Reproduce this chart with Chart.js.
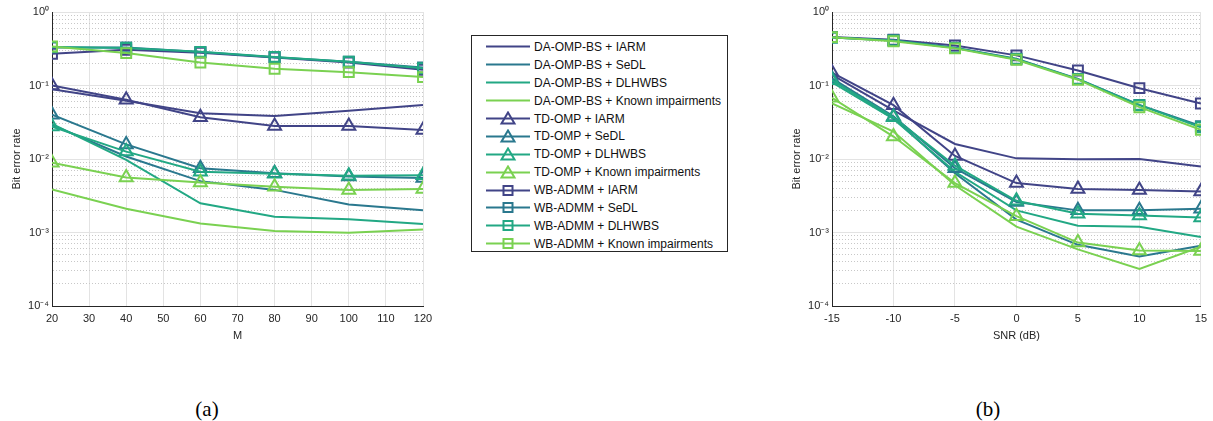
<!DOCTYPE html>
<html>
<head>
<meta charset="utf-8">
<script src="https://cdn.jsdelivr.net/npm/chart.js@4"></script>
<style>
  body { margin: 0; background: #fff; width: 1213px; height: 421px; position: relative; overflow: hidden; }
  .plot { position: absolute; top: 0; height: 350px; }
  #legend { position: absolute; left: 471px; top: 35px; width: 257px; height: 217px; border: 1px solid #262626;
            font-family: "Liberation Sans", Arial, sans-serif; font-size: 12px; color: #111; box-sizing: border-box; padding-top: 2px; }
  .row { height: 17.9px; display: flex; align-items: center; }
  .row svg { margin-left: 14px; margin-right: 4px; }
  .cap { position: absolute; top: 397px; width: 60px; text-align: center; font-family: "Liberation Serif", "Times New Roman", serif; font-size: 21px; color: #000; }
</style>
</head>
<body>
<div class="plot" style="left:0;width:440px"><canvas id="chartA"></canvas></div>
<div id="legend"></div>
<div class="plot" style="left:780px;width:433px"><canvas id="chartB"></canvas></div>
<div class="cap" style="left:177px">(a)</div>
<div class="cap" style="left:958px">(b)</div>
<script>
// x values
const mValues = [20, 40, 60, 80, 100, 120];
const snrValues = [-15, -10, -5, 0, 5, 10, 15];

// (a) BER vs M
const daIarmA = [0.089, 0.062, 0.042, 0.0385, 0.0455, 0.0543];
const daSedlA = [0.029, 0.0108, 0.005, 0.0038, 0.0024, 0.002];
const daDlhA = [0.03, 0.0097, 0.0025, 0.00164, 0.00152, 0.0013];
const daKnownA = [0.00386, 0.0021, 0.00133, 0.00105, 0.00099, 0.0011];
const tdIarmA = [0.1, 0.064, 0.037, 0.0281, 0.0281, 0.0248];
const tdSedlA = [0.04, 0.0158, 0.0075, 0.0064, 0.0058, 0.0055];
const tdDlhA = [0.0276, 0.0126, 0.0067, 0.0063, 0.0059, 0.006];
const tdKnownA = [0.0089, 0.0056, 0.0048, 0.0042, 0.0038, 0.0039];
const wbIarmA = [0.27, 0.306, 0.28, 0.241, 0.206, 0.164];
const wbSedlA = [0.33, 0.33, 0.285, 0.243, 0.21, 0.176];
const wbDlhA = [0.335, 0.325, 0.287, 0.245, 0.21, 0.172];
const wbKnownA = [0.34, 0.276, 0.206, 0.169, 0.152, 0.13];

// (b) BER vs SNR
const daIarmB = [0.14, 0.046, 0.016, 0.0102, 0.0099, 0.01, 0.0079];
const daSedlB = [0.12, 0.036, 0.0064, 0.0015, 0.00068, 0.00047, 0.00066];
const daDlhB = [0.11, 0.035, 0.0067, 0.002, 0.00124, 0.0012, 0.00087];
const daKnownB = [0.057, 0.0236, 0.0044, 0.0012, 0.00059, 0.00032, 0.00064];
const tdIarmB = [0.15, 0.054, 0.011, 0.0047, 0.0039, 0.0038, 0.0036];
const tdSedlB = [0.125, 0.038, 0.0075, 0.0026, 0.002, 0.002, 0.0021];
const tdDlhB = [0.118, 0.037, 0.0081, 0.0027, 0.0018, 0.0017, 0.0016];
const tdKnownB = [0.068, 0.0202, 0.0047, 0.00167, 0.00073, 0.00057, 0.00056];
const wbIarmB = [0.457, 0.42, 0.35, 0.257, 0.16, 0.092, 0.057];
const wbSedlB = [0.45, 0.41, 0.327, 0.231, 0.123, 0.0545, 0.028];
const wbDlhB = [0.45, 0.41, 0.325, 0.228, 0.122, 0.054, 0.027];
const wbKnownB = [0.455, 0.40, 0.32, 0.224, 0.12, 0.0507, 0.025];

const methods = ['DA-OMP-BS', 'TD-OMP', 'WB-ADMM'];
const markers = [false, 'triangle', 'rect'];
const variants = ['IARM', 'SeDL', 'DLHWBS', 'Known impairments'];
const colors = ['#414487', '#2a788e', '#22a884', '#7ad151'];

const seriesA = [daIarmA, daSedlA, daDlhA, daKnownA, tdIarmA, tdSedlA, tdDlhA, tdKnownA, wbIarmA, wbSedlA, wbDlhA, wbKnownA];
const seriesB = [daIarmB, daSedlB, daDlhB, daKnownB, tdIarmB, tdSedlB, tdDlhB, tdKnownB, wbIarmB, wbSedlB, wbDlhB, wbKnownB];

const supers = { '-': '⁻', '0': '⁰', '1': '¹', '2': '²', '3': '³', '4': '⁴' };
const tickFont = { family: '"Liberation Sans", Arial, sans-serif', size: 11 };
const textColor = '#262626';

function isDecade(v) {
    const l = Math.log10(v);
    return Math.abs(l - Math.round(l)) < 1e-6;
}

function makeDatasets(xs, series) {
    const sets = [];
    series.forEach((ys, i) => {
        const m = Math.floor(i / 4), v = i % 4;
        const style = markers[m];
        sets.push({
            label: methods[m] + ' + ' + variants[v],
            data: xs.map((x, k) => ({ x: x, y: ys[k] })),
            borderColor: colors[v],
            backgroundColor: colors[v],
            borderWidth: 2,
            pointStyle: style || 'circle',
            pointRadius: style ? (style === 'triangle' ? 7.5 : 7) : 0,
            pointBorderWidth: 2,
            pointBackgroundColor: 'rgba(0,0,0,0)',
            pointBorderColor: colors[v],
            tension: 0,
            order: 12 - i
        });
    });
    return sets;
}

function makeChart(id, xs, series, xTitle, xMin, xMax, step, padRight) {
    return new Chart(document.getElementById(id), {
        type: 'line',
        data: { datasets: makeDatasets(xs, series) },
        options: {
            responsive: false,
            animation: false,
            events: [],
            layout: { padding: { top: 12, right: padRight, left: 0, bottom: 0 } },
            plugins: { legend: { display: false }, tooltip: { enabled: false } },
            scales: {
                x: {
                    type: 'linear', min: xMin, max: xMax,
                    afterFit: (s) => { s.height = 44; },
                    ticks: { stepSize: step, color: textColor, font: tickFont, padding: 6, maxRotation: 0 },
                    grid: { color: '#e3e3e3', lineWidth: 1, drawTicks: false },
                    border: { display: true, color: '#262626', width: 1 },
                    title: { display: true, text: xTitle, color: textColor, font: tickFont, padding: { top: 0, bottom: 7 } }
                },
                y: {
                    type: 'logarithmic', min: 1e-4, max: 1,
                    afterFit: (s) => { s.width = 52; },
                    afterBuildTicks: (s) => {
                        const t = [];
                        for (let e = -4; e <= 0; e++) {
                            for (let k = 1; k <= 9; k++) {
                                const v = k * Math.pow(10, e);
                                if (v <= 1.0000001) t.push({ value: v });
                            }
                        }
                        s.ticks = t;
                    },
                    ticks: {
                        autoSkip: false, color: textColor, font: tickFont, padding: 3,
                        callback: (v) => {
                            if (!isDecade(v)) return '';
                            const e = String(Math.round(Math.log10(v)));
                            return '10' + e.split('').map(c => supers[c]).join('');
                        }
                    },
                    grid: {
                        drawTicks: false, lineWidth: 1,
                        color: (c) => (c.tick && isDecade(c.tick.value) ? '#e3e3e3' : '#c8c8c8')
                    },
                    border: {
                        display: true, color: '#262626', width: 1,
                        dash: (c) => (c.tick && !isDecade(c.tick.value) ? [1, 2] : [])
                    },
                    title: { display: true, text: 'Bit error rate', color: textColor, font: tickFont, padding: { top: 10, bottom: 0 } }
                }
            }
        }
    });
}

document.getElementById('chartA').width = 440;
document.getElementById('chartA').height = 350;
document.getElementById('chartB').width = 433;
document.getElementById('chartB').height = 350;

makeChart('chartA', mValues, seriesA, 'M', 20, 120, 10, 17);
makeChart('chartB', snrValues, seriesB, 'SNR (dB)', -15, 15, 5, 7);

// legend
const legend = document.getElementById('legend');
seriesA.forEach((_, i) => {
    const m = Math.floor(i / 4), v = i % 4;
    const c = colors[v];
    let mark = '';
    if (markers[m] === 'triangle') {
        mark = `<polygon points="22,1.5 28.5,12.5 15.5,12.5" fill="none" stroke="${c}" stroke-width="2"/>`;
    } else if (markers[m] === 'rect') {
        mark = `<rect x="17.5" y="3" width="9" height="9" fill="none" stroke="${c}" stroke-width="2"/>`;
    }
    const row = document.createElement('div');
    row.className = 'row';
    row.innerHTML = `<svg width="44" height="15"><line x1="0" y1="7.5" x2="44" y2="7.5" stroke="${c}" stroke-width="2"/>${mark}</svg>` +
        `<span>${methods[m]} + ${variants[v]}</span>`;
    legend.appendChild(row);
});
</script>
</body>
</html>
